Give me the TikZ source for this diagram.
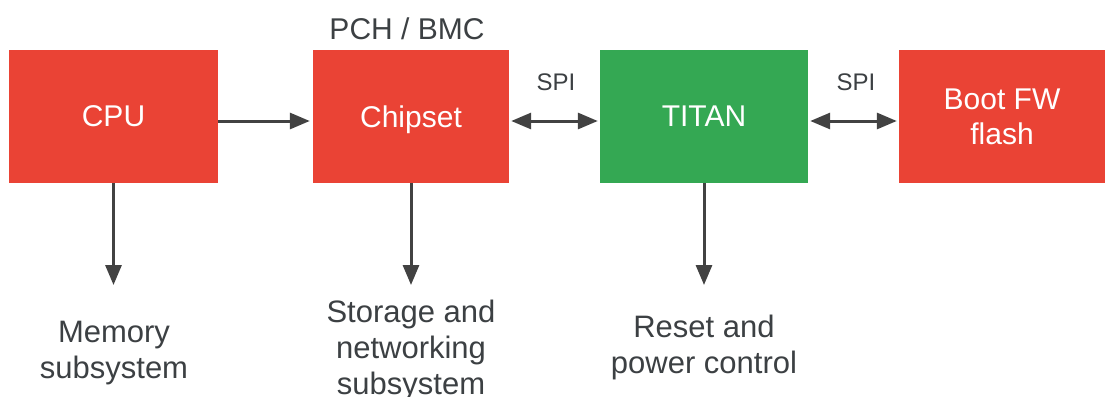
\documentclass[tikz,border=0pt]{standalone}
\usepackage{fontspec}
\setmainfont{Liberation Sans}
\usetikzlibrary{arrows.meta}
\definecolor{gred}{HTML}{EA4335}
\definecolor{ggreen}{HTML}{34A853}
\definecolor{txtc}{HTML}{3C4043}
\definecolor{arrc}{HTML}{424242}
\begin{document}
\begin{tikzpicture}[x=1pt,y=-1pt,
  blk/.style={rectangle, inner sep=0pt, text=white, font=\fontsize{30}{35}\selectfont, align=center, text depth=0pt},
  lbl/.style={text=txtc, font=\fontsize{31}{36}\selectfont, align=center, inner sep=0pt},
  spilbl/.style={text=txtc, font=\fontsize{24}{28}\selectfont, inner sep=0pt},
  con/.style={draw=arrc, line width=3pt, -{Triangle[length=20pt,width=16pt]}},
  bicon/.style={draw=arrc, line width=3pt, {Triangle[length=20pt,width=16pt]}-{Triangle[length=20pt,width=16pt]}, shorten <=2pt, shorten >=2pt}]
\useasboundingbox[fill=white] (0,0) rectangle (1105,396);
\node[blk, fill=gred, minimum width=209pt, minimum height=133pt] (cpu) at (113.5,116.5) {CPU};
\node[blk, fill=gred, minimum width=196pt, minimum height=133pt] (chip) at (411,116.5) {Chipset};
\node[blk, fill=ggreen, minimum width=208pt, minimum height=133pt] (titan) at (704,116.5) {TITAN};
\node[blk, fill=gred, minimum width=206pt, minimum height=133pt] (boot) at (1002,116.5) {Boot FW\\flash};
\node[lbl, font=\fontsize{30}{36}\selectfont] (pch) at (407,29) {PCH / BMC};
\node[spilbl] (spia) at (556,82) {SPI};
\node[spilbl] (spib) at (856,82) {SPI};
\node[lbl] (mem) at (114,353) {Memory\\subsystem};
\node[lbl] (stor) at (411,350) {Storage and\\networking\\subsystem};
\node[lbl] (rst) at (704,347) {Reset and\\power control};
\coordinate (memtip) at (cpu.south |- 0,285);
\coordinate (stortip) at (chip.south |- 0,285);
\coordinate (rsttip) at (titan.south |- 0,285);
\draw[con, shorten >=3pt] ([yshift=-4.5pt]cpu.east) -- ([yshift=-4.5pt]chip.west);
\draw[bicon] ([yshift=-4.5pt]chip.east) -- ([yshift=-4.5pt]titan.west);
\draw[bicon] ([yshift=-4.5pt]titan.east) -- ([yshift=-4.5pt]boot.west);
\draw[con] (cpu.south) -- (memtip);
\draw[con] (chip.south) -- (stortip);
\draw[con] (titan.south) -- (rsttip);
\end{tikzpicture}
\end{document}
